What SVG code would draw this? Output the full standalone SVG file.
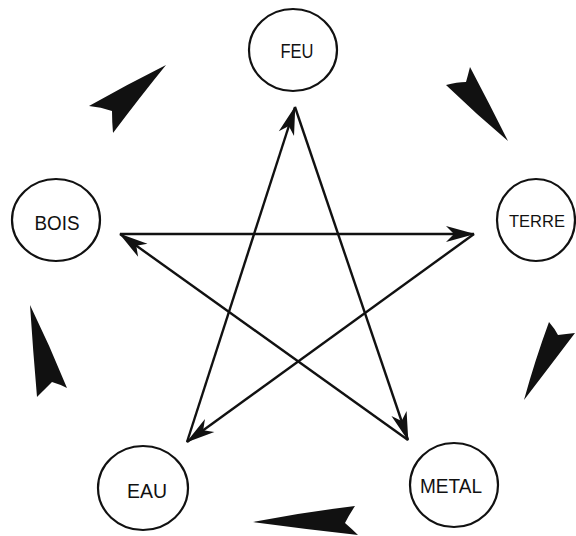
<svg xmlns="http://www.w3.org/2000/svg" width="576" height="536" viewBox="0 0 576 536">
<style>
.node{fill:#fff;stroke:#111;stroke-width:2.2}
.lbl{font-family:"Liberation Sans",Arial,sans-serif;font-size:20px;fill:#111;text-anchor:middle}
.edge{stroke:#111;stroke-width:2.4;fill:none;marker-end:url(#ah)}
.big{fill:#111}
</style>
<defs>
<marker id="ah" viewBox="-30 -9 32 18" refX="0" refY="0" markerWidth="32" markerHeight="18" markerUnits="userSpaceOnUse" orient="auto">
<path d="M1,0 L-28,-8 L-20,0 L-28,8 Z" fill="#111"/>
</marker>
</defs>
<rect width="576" height="536" fill="#fff"/>
<g id="connectors">
<line class="edge" x1="187" y1="442" x2="295" y2="107"/>
<line class="edge" x1="295" y1="107" x2="408" y2="440"/>
<line class="edge" x1="408" y1="440" x2="120" y2="234"/>
<line class="edge" x1="120" y1="234" x2="474" y2="234"/>
<line class="edge" x1="474" y1="234" x2="187" y2="442"/>
</g>
<g id="cycle-arrows">
<path class="big" d="M166,65 Q128,84 89,106 Q101,107 112,111 Q112,122 113,133 Q140,97 166,65 Z"/>
<path class="big" d="M508,141 Q476,114 446,85 Q457,82 466,82 Q468,75 470,67 Q490,105 508,141 Z"/>
<path class="big" d="M524,400 Q535,360 549,322 Q555,329 558,335 Q566,334 575,333 Q550,366 524,400 Z"/>
<path class="big" d="M253,522 Q304,512 355,506 Q349,515 345,523 Q352,529 358,535 Q305,529 253,522 Z"/>
<path class="big" d="M30,305 Q50,346 67,388 Q59,384 52,382 Q44,390 37,397 Q33,351 30,305 Z"/>
</g>
<g id="feu">
<ellipse class="node" cx="293" cy="50" rx="44" ry="41"/>
<text class="lbl" x="297" y="58" textLength="33" lengthAdjust="spacingAndGlyphs">FEU</text>
</g>
<g id="bois">
<ellipse class="node" cx="56" cy="220" rx="44" ry="41"/>
<text class="lbl" x="57" y="230" textLength="45" lengthAdjust="spacingAndGlyphs">BOIS</text>
</g>
<g id="terre">
<ellipse class="node" cx="536" cy="220" rx="39" ry="41"/>
<text class="lbl" x="537" y="227" style="font-size:16.5px">TERRE</text>
</g>
<g id="eau">
<ellipse class="node" cx="143" cy="488" rx="45" ry="42"/>
<text class="lbl" x="147" y="498" textLength="40" lengthAdjust="spacingAndGlyphs">EAU</text>
</g>
<g id="metal">
<ellipse class="node" cx="454" cy="485" rx="44" ry="42"/>
<text class="lbl" x="451" y="493" textLength="62" lengthAdjust="spacingAndGlyphs">METAL</text>
</g>
</svg>
